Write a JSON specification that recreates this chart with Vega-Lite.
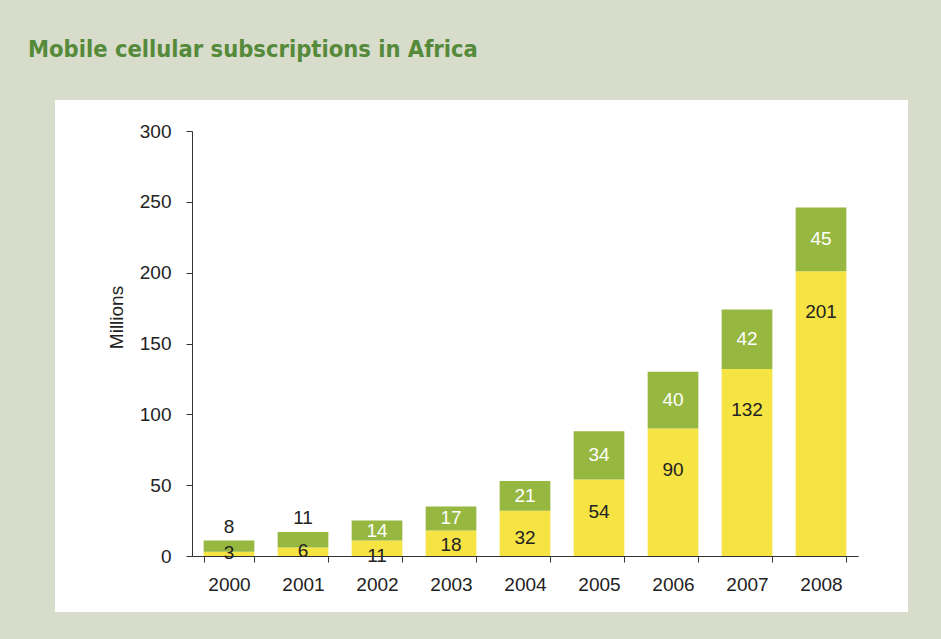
{
  "$schema": "https://vega.github.io/schema/vega-lite/v6.json",
  "width": 795,
  "height": 454,
  "autosize": {"type": "none"},
  "padding": {"left": 84, "top": 129, "right": 62, "bottom": 56},
  "background": "#d8dccb",
  "config": {
    "view": {"fill": "white", "stroke": "white", "strokeWidth": 58},
    "font": "Liberation Sans"
  },
  "title": {
    "text": "Mobile cellular subscriptions in Africa",
    "anchor": "start",
    "frame": "group",
    "font": "DejaVu Sans Condensed, DejaVu Sans",
    "fontSize": 23.5,
    "fontWeight": "bold",
    "color": "#548a3a",
    "baseline": "alphabetic",
    "dx": -56,
    "offset": 42
  },
  "data": {
    "values": [
      {"year": "2000", "series": "A", "value": 3},
      {"year": "2001", "series": "A", "value": 6},
      {"year": "2002", "series": "A", "value": 11},
      {"year": "2003", "series": "A", "value": 18},
      {"year": "2004", "series": "A", "value": 32},
      {"year": "2005", "series": "A", "value": 54},
      {"year": "2006", "series": "A", "value": 90},
      {"year": "2007", "series": "A", "value": 132},
      {"year": "2008", "series": "A", "value": 201},
      {"year": "2000", "series": "B", "value": 8},
      {"year": "2001", "series": "B", "value": 11},
      {"year": "2002", "series": "B", "value": 14},
      {"year": "2003", "series": "B", "value": 17},
      {"year": "2004", "series": "B", "value": 21},
      {"year": "2005", "series": "B", "value": 34},
      {"year": "2006", "series": "B", "value": 40},
      {"year": "2007", "series": "B", "value": 42},
      {"year": "2008", "series": "B", "value": 45}
    ]
  },
  "transform": [
    {"stack": "value", "groupby": ["year"], "sort": [{"field": "series"}], "as": ["v0", "v1"]},
    {"joinaggregate": [{"op": "sum", "field": "value", "as": "total"}], "groupby": ["year"]},
    {"calculate": "datum.series == 'A' ? (datum.value >= 60 ? datum.value - 29 : (datum.value >= 50 ? datum.value - 23 : (datum.value >= 25 ? datum.value - 19.5 : (datum.value >= 15 ? datum.value - 10 : (datum.value >= 10 ? 0 : datum.value * 0.6))))) : (datum.value < 12 ? datum.total + 9.5 : (datum.v0 + datum.v1) / 2)", "as": "labelPos"}
  ],
  "encoding": {
    "x": {
      "field": "year",
      "type": "ordinal",
      "scale": {"range": [108, 774], "paddingInner": 0.315, "paddingOuter": 0.1575},
      "axis": {
        "title": null,
        "offset": -27,
        "tickBand": "extent",
        "tickSize": 6,
        "tickColor": "#333333",
        "domainColor": "#333333",
        "labelAngle": 0,
        "labelFontSize": 19,
        "labelColor": "#222222",
        "labelPadding": 13,
        "grid": false
      }
    }
  },
  "layer": [
    {
      "mark": {"type": "bar"},
      "encoding": {
        "y": {
          "field": "v0",
          "type": "quantitative",
          "scale": {"domain": [0, 300], "range": [427, 2], "nice": false},
          "axis": {
            "offset": -108,
            "values": [0, 50, 100, 150, 200, 250, 300],
            "grid": false,
            "tickSize": 6,
            "tickColor": "#333333",
            "domainColor": "#333333",
            "labelFontSize": 19,
            "labelColor": "#222222",
            "labelPadding": 15,
            "title": "Millions",
            "titleFontSize": 19,
            "titleFontWeight": "normal",
            "titleColor": "#222222",
            "titleX": -76,
            "titleY": 188,
            "titleAngle": -90,
            "titleAlign": "center",
            "titleBaseline": "middle"
          }
        },
        "y2": {"field": "v1"},
        "color": {
          "field": "series",
          "type": "nominal",
          "scale": {"domain": ["A", "B"], "range": ["#f6e344", "#96b740"]},
          "legend": null
        }
      }
    },
    {
      "mark": {"type": "text", "align": "center", "baseline": "middle", "fontSize": 19},
      "encoding": {
        "y": {"field": "labelPos", "type": "quantitative"},
        "text": {"field": "value", "type": "quantitative"},
        "color": {
          "condition": {"test": "datum.series == 'B' && datum.value >= 12", "value": "white"},
          "value": "#222222"
        }
      }
    }
  ]
}
